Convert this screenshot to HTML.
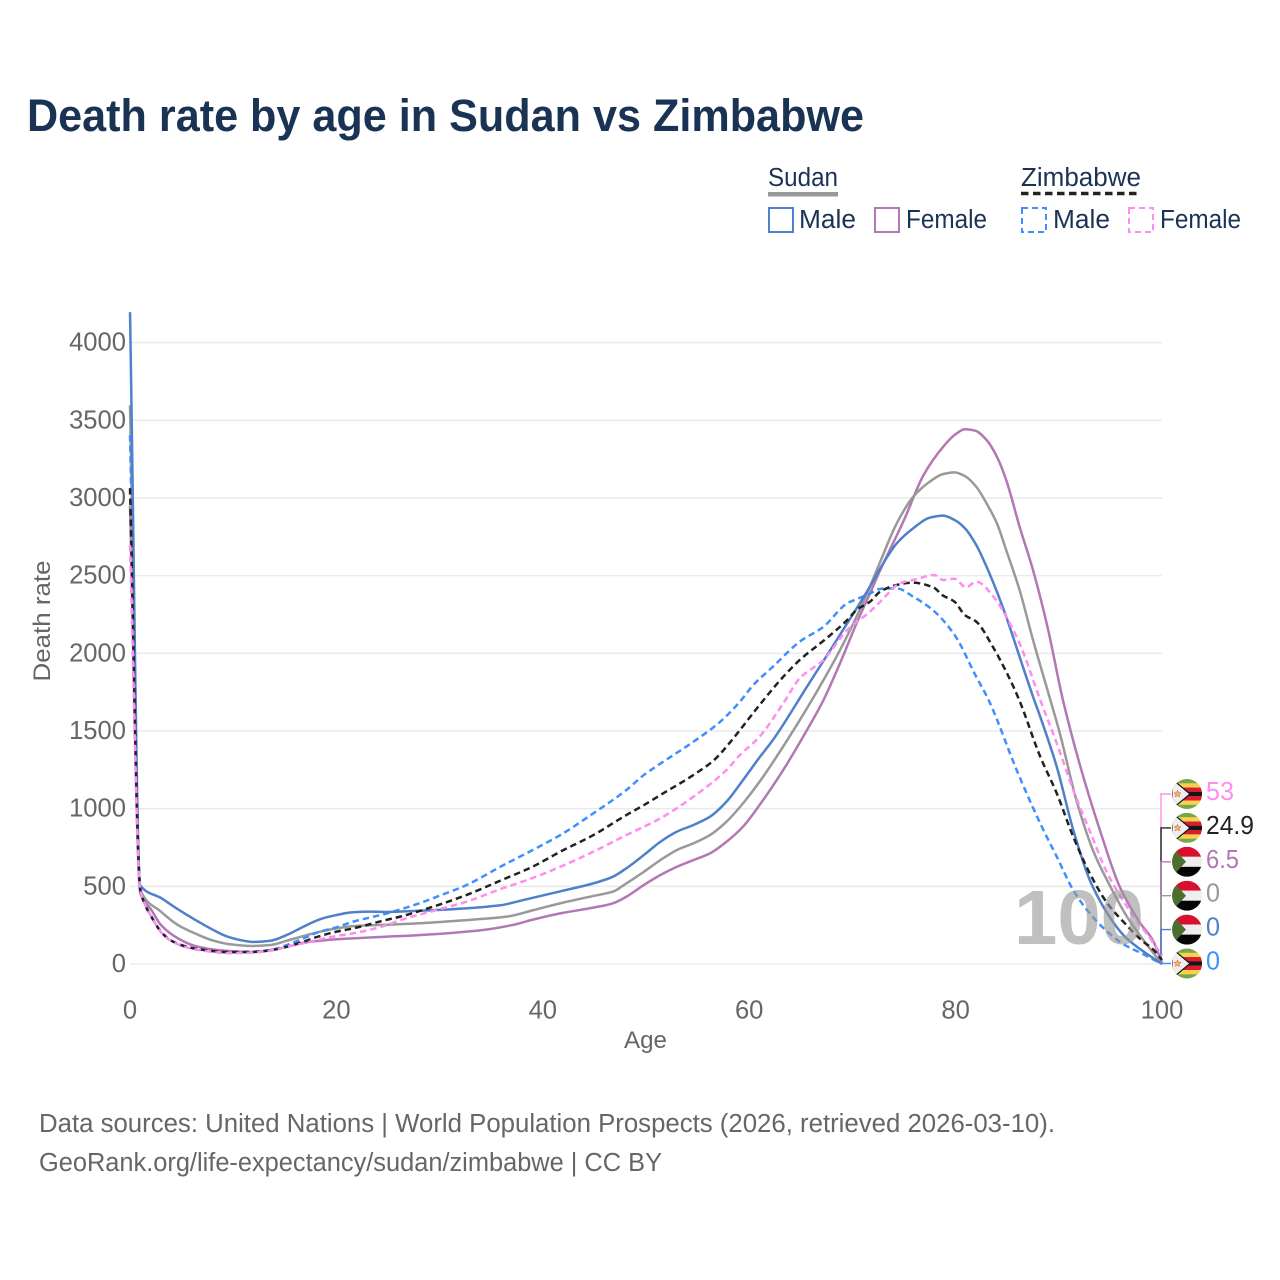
<!DOCTYPE html>
<html lang="en">
<head>
<meta charset="utf-8">
<title>Death rate by age in Sudan vs Zimbabwe</title>
<style>
html,body{margin:0;padding:0;background:#fff;}
svg{display:block;font-family:"Liberation Sans",sans-serif;}
</style>
</head>
<body>
<svg id="chart" xmlns="http://www.w3.org/2000/svg" width="1280" height="1280" viewBox="0 0 1280 1280">
  <defs>
    <clipPath id="flag-clip"><circle cx="0" cy="0" r="15"/></clipPath>
    <g id="flag-zw" clip-path="url(#flag-clip)">
      <rect x="-15" y="-15" width="30" height="30" fill="#78a64c"/>
      <rect x="-15" y="-10.7" width="30" height="4.3" fill="#f8d24e"/>
      <rect x="-15" y="-6.4" width="30" height="4.3" fill="#dc1a32"/>
      <rect x="-15" y="-2.1" width="30" height="4.3" fill="#151515"/>
      <rect x="-15" y="2.2" width="30" height="4.3" fill="#dc1a32"/>
      <rect x="-15" y="6.5" width="30" height="4.3" fill="#f8d24e"/>
      <polygon points="-15,-15 3,0 -15,15" fill="#eeeeee" stroke="#151515" stroke-width="1.2"/>
      <polygon points="-9.5,-3.6 -8.6,-1.1 -6,-1.1 -8.1,0.5 -7.3,3 -9.5,1.5 -11.7,3 -10.9,0.5 -13,-1.1 -10.4,-1.1" fill="#f5c53c" stroke="#dc1a32" stroke-width="0.4"/>
    </g>
    <g id="flag-sd" clip-path="url(#flag-clip)">
      <rect x="-15" y="-15" width="30" height="10" fill="#d90f2e"/>
      <rect x="-15" y="-5" width="30" height="10" fill="#eeeeee"/>
      <rect x="-15" y="5" width="30" height="10" fill="#050505"/>
      <polygon points="-15,-15 -1,0 -15,15" fill="#4d6f2e"/>
    </g>
  </defs>

  <text x="27" y="131" font-size="45" font-weight="700" fill="#1a3355" textLength="837" lengthAdjust="spacingAndGlyphs">Death rate by age in Sudan vs Zimbabwe</text>

  <g>
    <text x="768" y="186" font-size="25.5" fill="#1a3355" textLength="70" lengthAdjust="spacingAndGlyphs">Sudan</text>
    <rect x="768" y="192" width="70" height="4.5" fill="#999999"/>
    <text x="1021" y="186" font-size="25.5" fill="#1a3355" textLength="120" lengthAdjust="spacingAndGlyphs">Zimbabwe</text>
    <line x1="1021" y1="193.5" x2="1141" y2="193.5" stroke="#222222" stroke-width="3.5" stroke-dasharray="7.5 4.5"/>

    <rect x="769" y="208" width="24" height="24" fill="none" stroke="#4f80c9" stroke-width="2"/>
    <text x="799" y="228" font-size="25.5" fill="#1a3355" textLength="57" lengthAdjust="spacingAndGlyphs">Male</text>
    <rect x="875" y="208" width="24" height="24" fill="none" stroke="#b278b4" stroke-width="2"/>
    <text x="906" y="228" font-size="25.5" fill="#1a3355" textLength="81" lengthAdjust="spacingAndGlyphs">Female</text>
    <rect x="1022" y="208" width="24" height="24" fill="none" stroke="#3f8fff" stroke-width="2" stroke-dasharray="6 4"/>
    <text x="1053" y="228" font-size="25.5" fill="#1a3355" textLength="57" lengthAdjust="spacingAndGlyphs">Male</text>
    <rect x="1129" y="208" width="24" height="24" fill="none" stroke="#ff8cf0" stroke-width="2" stroke-dasharray="6 4"/>
    <text x="1160" y="228" font-size="25.5" fill="#1a3355" textLength="81" lengthAdjust="spacingAndGlyphs">Female</text>
  </g>

  <g id="grid"></g>
  <g id="yticks"></g>
  <g id="xticks"></g>
  <text x="645.5" y="1048" font-size="24.5" fill="#666666" text-anchor="middle" textLength="43" lengthAdjust="spacingAndGlyphs">Age</text>
  <text x="0" y="0" transform="translate(50,621) rotate(-90)" font-size="24.5" fill="#666666" text-anchor="middle" textLength="121" lengthAdjust="spacingAndGlyphs">Death rate</text>

  <g id="connectors"></g>
  <g id="series"></g>
  <text x="1014" y="944" font-size="77" font-weight="700" fill="#999999" fill-opacity="0.62" textLength="130" lengthAdjust="spacingAndGlyphs">100</text>
  <g id="endlabels"></g>

  <g>
    <text x="39" y="1132" font-size="25.5" fill="#666666" textLength="1016" lengthAdjust="spacingAndGlyphs">Data sources: United Nations | World Population Prospects (2026, retrieved 2026-03-10).</text>
    <text x="39" y="1171" font-size="25.5" fill="#666666" textLength="623" lengthAdjust="spacingAndGlyphs">GeoRank.org/life-expectancy/sudan/zimbabwe | CC BY</text>
  </g>
</svg>

<script>
const yTickValues = [0, 500, 1000, 1500, 2000, 2500, 3000, 3500, 4000];
const xTickValues = [0, 20, 40, 60, 80, 100];

const sudanMaleAges = [0,1,3,4.65,6.3,7.9,9.5,11,11.9,13.6,15.2,16.8,18.4,20,21.6,23.3,24.9,28,31,35.9,38,41.7,44.9,46.8,48.1,49.8,51.4,53,54.6,56.2,57.8,59.4,61,62.3,65.6,67.5,69.5,71.5,72.7,74.3,75.9,77.5,78.8,79.9,80.9,82,83,84,84.9,86.2,87.5,88.2,89.8,91.4,93,94.7,96.4,98,100];
const sudanMaleRates = [4196,505,425,352,285,225,175,150,142,150,187,240,288,315,333,337,335,343,352,378,410,468,519,562,616,702,787,852,895,948,1045,1184,1330,1442,1785,1983,2193,2407,2547,2708,2805,2873,2886,2858,2805,2697,2557,2397,2236,1978,1721,1592,1270,863,541,326,176,90,0];

const sudanBothAges = [0,1,3,4.65,6.3,7.9,9.5,11.9,13.6,15.2,16.8,18.4,20,21.6,24.9,28,32,36.5,39,41.7,44.9,46.8,48.1,49.8,51.4,53,54.6,56.2,57.8,59.4,61,61.8,63.9,65.6,67.2,68.8,70.4,71.7,72.7,74.3,75.9,77.5,78.8,79.9,80.9,82,83,84,84.9,86.2,87.5,88.9,90.1,91.7,93.3,95,96.6,98.2,100];
const sudanBothRates = [3597,476,337,251,197,154,129,116,122,150,180,208,229,244,253,262,280,305,345,391,438,466,519,594,669,734,777,830,916,1034,1173,1249,1463,1646,1828,2021,2236,2430,2590,2837,3008,3105,3154,3165,3141,3072,2965,2837,2665,2407,2086,1764,1485,1056,734,498,305,154,0];

const sudanFemaleAges = [0,1,2.07,3,4.65,6.3,7.9,9.5,11.9,13.6,15.2,16.8,18.4,20,21.6,24.9,28,34.2,37,39,41.7,43.6,44.9,46.8,48.1,49.8,51.4,53,54.6,56.2,57.8,59.4,61,63.3,65.6,67.2,68.8,70.4,71.7,72.7,75,76.9,78.8,79.9,80.9,81.9,83,84,84.9,86.2,87.5,88.9,90.4,92,94,95.9,97.9,99.1,100];
const sudanFemaleRates = [2950,455,348,251,165,116,95,84,77,90,111,137,150,159,165,176,186,219,250,285,326,348,363,391,433,509,573,626,669,712,787,884,1023,1249,1506,1699,1936,2193,2386,2536,2858,3148,3330,3405,3442,3433,3373,3266,3116,2815,2536,2171,1699,1292,858,498,262,154,6.5];

const zimbabweMaleAges = [0,1,1.4,2.07,3,4,5.6,7.2,9.5,11.9,13.6,15.2,16.8,18.4,20,21.6,24.9,28,30,32.6,36,39,41.7,44.9,48.1,49.8,51.4,54.6,57.2,59.1,60.4,62.3,64.9,67.2,69.5,70.4,71.7,72.7,74.3,75.9,77.9,79.9,82,83.2,86,88.2,89.8,91.4,93,94.7,96.4,98,100];
const zimbabweMaleRates = [3404,480,390,305,208,150,107,90,75,79,90,122,165,208,236,272,326,390,440,508,630,733,830,970,1120,1217,1290,1431,1560,1689,1796,1914,2075,2171,2322,2348,2385,2415,2418,2364,2272,2118,1849,1699,1235,905,691,476,326,208,122,69,0];

const zimbabweBothAges = [0,1,1.4,2.07,3,4,5.6,7.2,9.5,11.9,13.6,15.2,16.8,18.4,20,21.6,24.9,26.2,28,32.6,36,39,41.7,44.9,48.1,49.8,51.4,54.6,56.6,58.2,59.1,61,63.3,64.9,67.5,69.5,70.4,71.7,72.7,74.3,75.8,77.9,78.7,79.9,80.9,82,83.6,84.9,86.1,88.2,89.8,91.4,93,94.7,96.4,98,99.2,100];
const zimbabweBothRates = [3063,480,390,305,208,150,110,90,77,78,88,111,144,180,208,229,285,305,340,444,540,626,723,830,959,1023,1088,1217,1313,1431,1506,1667,1849,1957,2097,2214,2279,2332,2397,2440,2455,2422,2375,2332,2246,2204,2043,1882,1710,1335,1099,819,584,391,262,154,90,24.9];

const zimbabweFemaleAges = [0,1,1.4,2.07,3,4,5.6,7.2,9.5,11.9,13.6,15.2,16.8,18.4,20,21.6,24.9,26.2,29,32.6,36,39,41.7,44.9,48.1,51.4,54.6,57.8,59.1,61,63.3,64.9,67.2,69.5,71.7,72.7,74.6,76.2,77.9,78.8,79.9,81,82,83.8,84.9,86.2,88.2,89.8,91.4,93.1,94.7,96.4,98,99.2,100];
const zimbabweFemaleRates = [2696,480,390,305,205,148,105,85,70,73,86,111,133,159,180,197,250,283,335,401,485,553,626,723,830,938,1077,1249,1345,1463,1678,1839,1957,2150,2268,2332,2450,2477,2504,2472,2480,2425,2461,2354,2236,2064,1700,1421,1120,841,584,391,240,133,53];

const NS = 'http://www.w3.org/2000/svg';
const xScale = a => 130 + a * 10.32;
const yScale = v => 964 - v * 0.15535;

function make(tag, attrs, parent) {
  const el = document.createElementNS(NS, tag);
  for (const k in attrs) el.setAttribute(k, attrs[k]);
  parent.appendChild(el);
  return el;
}

/* monotone cubic path, so the sharp drop at age 0 does not overshoot */
function linePath(ages, rates) {
  const X = ages.map(xScale), Y = rates.map(yScale), n = X.length;
  const s = [], m = new Array(n);
  for (let i = 0; i < n - 1; i++) s.push((Y[i + 1] - Y[i]) / (X[i + 1] - X[i]));
  m[0] = s[0]; m[n - 1] = s[n - 2];
  for (let i = 1; i < n - 1; i++) {
    if (s[i - 1] * s[i] <= 0) { m[i] = 0; continue; }
    const h0 = X[i] - X[i - 1], h1 = X[i + 1] - X[i];
    m[i] = 3 * (h0 + h1) / ((2 * h1 + h0) / s[i - 1] + (h1 + 2 * h0) / s[i]);
  }
  let d = 'M' + X[0].toFixed(2) + ' ' + Y[0].toFixed(2);
  for (let i = 0; i < n - 1; i++) {
    const h = (X[i + 1] - X[i]) / 3;
    d += 'C' + (X[i] + h).toFixed(2) + ' ' + (Y[i] + m[i] * h).toFixed(2) + ' ' +
         (X[i + 1] - h).toFixed(2) + ' ' + (Y[i + 1] - m[i + 1] * h).toFixed(2) + ' ' +
         X[i + 1].toFixed(2) + ' ' + Y[i + 1].toFixed(2);
  }
  return d;
}

const gridG = document.getElementById('grid');
const yG = document.getElementById('yticks');
const xG = document.getElementById('xticks');

yTickValues.forEach(v => {
  const line = make('line', {x1: 130, x2: 1162, y1: yScale(v), y2: yScale(v), stroke: '#ebebeb', 'stroke-width': 1.6}, gridG);
  
  
  const t = make('text', {x: 126, y: yScale(v) + 8, 'font-size': 25.6, fill: '#666666', 'text-anchor': 'end'}, yG);
  
  
  t.textContent = v;
});

xTickValues.forEach(v => {
  const t = make('text', {x: xScale(v), y: 1018.5, 'font-size': 25.6, fill: '#666666', 'text-anchor': 'middle'}, xG);
  
  
  t.textContent = v;
});

const seriesG = document.getElementById('series');

const purpleLine = make('path', {d: linePath(sudanFemaleAges, sudanFemaleRates), fill: 'none', stroke: '#b278b4', 'stroke-width': 2.5, 'stroke-linejoin': 'round'}, seriesG);



const grayLine = make('path', {d: linePath(sudanBothAges, sudanBothRates), fill: 'none', stroke: '#999999', 'stroke-width': 2.5, 'stroke-linejoin': 'round'}, seriesG);



const zimMaleLine = make('path', {d: linePath(zimbabweMaleAges, zimbabweMaleRates), fill: 'none', stroke: '#3f8fff', 'stroke-width': 2.5, 'stroke-dasharray': '6.5 4', 'stroke-linejoin': 'round'}, seriesG);



const blueLine = make('path', {d: linePath(sudanMaleAges, sudanMaleRates), fill: 'none', stroke: '#4f80c9', 'stroke-width': 2.5, 'stroke-linejoin': 'round'}, seriesG);



const blackLine = make('path', {d: linePath(zimbabweBothAges, zimbabweBothRates), fill: 'none', stroke: '#222222', 'stroke-width': 2.5, 'stroke-dasharray': '6.5 4', 'stroke-linejoin': 'round'}, seriesG);



const pinkLine = make('path', {d: linePath(zimbabweFemaleAges, zimbabweFemaleRates), fill: 'none', stroke: '#ff8cf0', 'stroke-width': 2.5, 'stroke-dasharray': '6.5 4', 'stroke-linejoin': 'round'}, seriesG);



/* end labels: the printed value is the last value of each series */
const lastOf = a => a[a.length - 1];
const endItems = [
  {flag: 'flag-zw', color: '#ff8cf0', value: lastOf(zimbabweFemaleRates), slot: 0, width: 28},
  {flag: 'flag-zw', color: '#222222', value: lastOf(zimbabweBothRates), slot: 1, width: 48},
  {flag: 'flag-sd', color: '#b278b4', value: lastOf(sudanFemaleRates), slot: 2, width: 33},
  {flag: 'flag-sd', color: '#999999', value: lastOf(sudanBothRates), slot: 3, width: 14},
  {flag: 'flag-sd', color: '#4f80c9', value: lastOf(sudanMaleRates), slot: 4, width: 14},
  {flag: 'flag-zw', color: '#3f8fff', value: lastOf(zimbabweMaleRates), slot: 5, width: 14}
];
const connG = document.getElementById('connectors');
const endG = document.getElementById('endlabels');
endItems.forEach(item => {
  const ly = 794 + item.slot * 33.9;
  const conn = make('path', {d: 'M1161 ' + yScale(item.value) + 'V' + ly + 'H1171', fill: 'none', stroke: item.color, 'stroke-width': 1.4}, connG);
  
  
  const flag = make('use', {href: '#' + item.flag, transform: 'translate(1187,' + ly + ')'}, endG);
  
  
  const t = make('text', {x: 1206, y: ly + 6, 'font-size': 25.6, fill: item.color, textLength: item.width, lengthAdjust: 'spacingAndGlyphs'}, endG);
  
  
  t.textContent = item.value;
});
</script>
</body>
</html>
